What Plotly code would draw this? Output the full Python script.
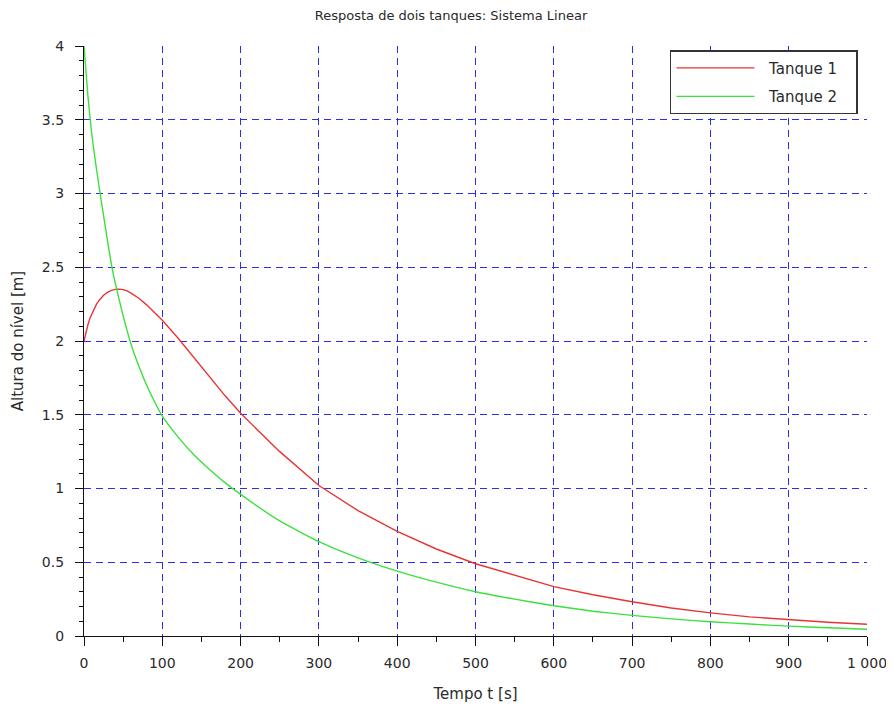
import plotly.graph_objects as go

t_green = [0, 5, 10, 15, 20, 25, 30, 35, 40, 50, 60, 70, 80, 90, 100, 120, 140, 160, 180, 200,
           250, 300, 350, 400, 450, 500, 550, 600, 650, 700, 750, 800, 850, 900, 950, 1000]
h_green = [4.00, 3.66, 3.40, 3.20, 3.02, 2.85, 2.68, 2.52, 2.39, 2.17, 1.98, 1.83, 1.70, 1.59, 1.49,
           1.35, 1.23, 1.13, 1.04, 0.96,
           0.78, 0.64, 0.53, 0.44, 0.365, 0.30, 0.25, 0.205, 0.168, 0.14, 0.116, 0.097, 0.081,
           0.067, 0.056, 0.046]

t_red = [0, 2, 5, 8, 12, 16, 20, 25, 30, 35, 40, 45, 50, 55, 60, 70, 80, 90, 100, 120, 140, 160,
         180, 200, 250, 300, 350, 400, 450, 500, 550, 600, 650, 700, 750, 800, 850, 900, 950, 1000]
h_red = [2.00, 2.05, 2.11, 2.16, 2.21, 2.25, 2.28, 2.31, 2.33, 2.343, 2.35, 2.352, 2.348, 2.34,
         2.325, 2.29, 2.245, 2.195, 2.14,
         2.02, 1.89, 1.76, 1.63, 1.51,
         1.25, 1.02, 0.85, 0.71, 0.59, 0.49, 0.41, 0.335, 0.28, 0.232, 0.19, 0.157, 0.13,
         0.11, 0.093, 0.08]

series_names = ["Tanque 1", "Tanque 2"]
x_ticks = [0, 100, 200, 300, 400, 500, 600, 700, 800, 900, 1000]
y_ticks = [0, 0.5, 1, 1.5, 2, 2.5, 3, 3.5, 4]

font = "DejaVu Sans, sans-serif"
grid_color = "#2e2ee6"
txt = "#2a2a2a"
pad_l = "\u00a0\u00a0"
pad_r = "\u00a0\u00a0\u00a0"

fig = go.Figure()
fig.add_trace(go.Scatter(x=t_red, y=h_red, mode="lines", name=pad_l + series_names[0] + pad_r,
                         legendgroup="a", line=dict(color="#e83434", width=1.4)))
fig.add_trace(go.Scatter(x=t_green, y=h_green, mode="lines", name=pad_l + series_names[1] + pad_r,
                         legendgroup="b",
                         line=dict(color="#3ce03c", width=1.4, shape="spline", smoothing=0.5)))

fig.update_layout(
    width=886, height=701,
    paper_bgcolor="white", plot_bgcolor="white",
    margin=dict(l=76, r=27, t=38, b=73, autoexpand=False),
    separators=". ",
    title=dict(text="Resposta de dois tanques: Sistema Linear", x=0.5, xanchor="center",
               y=0.99, yanchor="middle", automargin=False,
               font=dict(family=font, size=13, color=txt)),
    font=dict(family=font, size=14, color=txt),
    showlegend=True,
    legend=dict(x=0.9885, y=0.993, xanchor="right", yanchor="top",
                bgcolor="white", bordercolor="#333", borderwidth=1.5,
                font=dict(family=font, size=15, color=txt),
                itemwidth=78, tracegroupgap=6),
)

fig.update_xaxes(
    range=[0, 1000], tickvals=x_ticks, tickformat=",d", automargin=False,
    showline=True, linecolor="#111", linewidth=1.3,
    ticks="outside", ticklen=9, tickcolor="#111", tickwidth=1.2, ticklabelstandoff=5,
    minor=dict(dtick=50, ticks="outside", ticklen=5, tickcolor="#111", showgrid=False),
    showgrid=True, gridcolor=grid_color, gridwidth=1.2, griddash="7px,5px",
    zeroline=False,
    tickfont=dict(family=font, size=14, color=txt),
    title=dict(text="Tempo t [s]", font=dict(family=font, size=15, color=txt), standoff=18),
)
fig.update_yaxes(
    range=[0, 4], tickvals=y_ticks, automargin=False,
    showline=True, linecolor="#111", linewidth=1.3,
    ticks="outside", ticklen=8, tickcolor="#111", tickwidth=1.2, ticklabelstandoff=8,
    minor=dict(dtick=0.1, ticks="outside", ticklen=4, tickcolor="#111", showgrid=False),
    showgrid=True, gridcolor=grid_color, gridwidth=1.2, griddash="7px,5px",
    zeroline=False,
    tickfont=dict(family=font, size=14, color=txt),
    title=dict(text="Altura do nível [m]", font=dict(family=font, size=15, color=txt), standoff=14),
)

fig.write_html("out.html")
